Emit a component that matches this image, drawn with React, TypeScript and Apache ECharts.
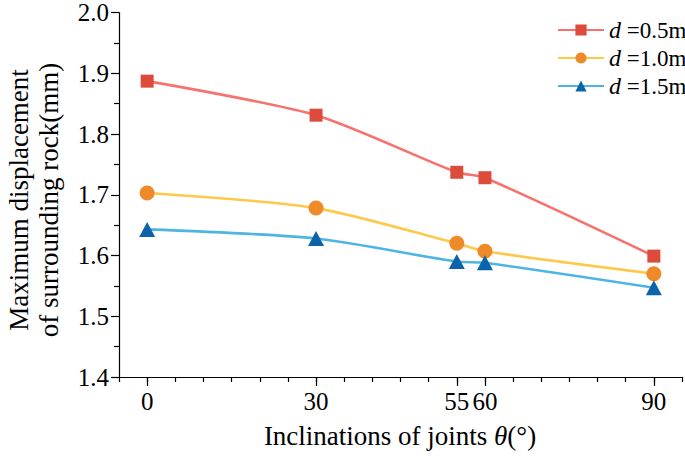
import React, { useEffect, useRef } from "react";
import * as echarts from "echarts";

const angles = [0, 30, 55, 60, 90];
const d05 = [1.887, 1.831, 1.737, 1.728, 1.599];
const d10 = [1.703, 1.678, 1.620, 1.607, 1.570];
const d15 = [1.643, 1.628, 1.590, 1.588, 1.547];
const seriesNames = ["d =0.5m", "d =1.0m", "d =1.5m"];
const xTickLabels = [0, 30, 55, 60, 90];
const yTitle = "Maximum displacement\nof surrounding rock(mm)";

const FONT = "'Liberation Serif', 'Times New Roman', serif";

export default function App() {
  const ref = useRef<HTMLDivElement>(null);
  useEffect(() => {
    if (!ref.current) return;
    const chart = echarts.init(ref.current, null, { renderer: "svg" });
    const mk = (vals: number[]) => angles.map((a, i) => [a, vals[i]]);
    const gridPos = { left: 119, top: 10, width: 563, height: 367 };
    const lineCommon = { type: "line", smooth: 0.25 };
    chart.setOption({
      animation: false,
      backgroundColor: "#ffffff",
      grid: [gridPos],
      legend: {
        orient: "vertical",
        left: 552,
        top: 13,
        itemWidth: 46,
        itemHeight: 14,
        itemGap: 4,
        data: seriesNames,
        formatter: (name: string) => `{i|d}{n|${name.slice(1)}}`,
        textStyle: {
          fontFamily: FONT,
          fontSize: 23,
          color: "#000",
          lineHeight: 24,
          rich: {
            i: { fontFamily: FONT, fontStyle: "italic", fontSize: 24, color: "#000", lineHeight: 24 },
            n: { fontFamily: FONT, fontSize: 23, color: "#000", lineHeight: 24 },
          },
        },
      },
      xAxis: [
        {
          type: "value",
          min: -5,
          max: 95,
          interval: 5,
          splitLine: { show: false },
          axisLine: { show: true, onZero: false, lineStyle: { color: "#000", width: 1.2 } },
          axisTick: {
            show: true,
            length: 9,
            customValues: xTickLabels,
            lineStyle: { color: "#000", width: 1.2 },
          },
          axisLabel: {
            customValues: xTickLabels,
            fontFamily: FONT,
            fontSize: 25,
            color: "#000",
            margin: 12,
          },
        },
        {
          type: "value",
          min: -5,
          max: 95,
          interval: 5,
          position: "bottom",
          splitLine: { show: false },
          axisLine: { show: false },
          axisTick: { show: true, length: 5, lineStyle: { color: "#000", width: 1.2 } },
          axisLabel: { show: false },
        },
      ],
      yAxis: {
        type: "value",
        min: 1.4,
        max: 2.0,
        interval: 0.1,
        splitLine: { show: false },
        axisLine: { show: true, onZero: false, lineStyle: { color: "#000", width: 1.2 } },
        axisTick: { show: true, length: 8, lineStyle: { color: "#000", width: 1.2 } },
        minorTick: { show: true, splitNumber: 2, length: 5, lineStyle: { color: "#000", width: 1.2 } },
        axisLabel: {
          fontFamily: FONT,
          fontSize: 25,
          color: "#000",
          margin: 10,
          formatter: (v: number) => v.toFixed(1),
        },
      },
      graphic: [
        {
          type: "text",
          x: 34,
          y: 200,
          rotation: Math.PI / 2,
          style: {
            text: yTitle,
            fontFamily: FONT,
            fontSize: 27,
            lineHeight: 30,
            fill: "#000",
            align: "center",
            verticalAlign: "middle",
          },
        },
        {
          type: "text",
          x: 400,
          y: 436,
          style: {
            text: "{a|Inclinations of joints }{b|θ}{a|(°)}",
            rich: {
              a: { fontFamily: FONT, fontSize: 27, fill: "#000" },
              b: { fontFamily: FONT, fontSize: 27, fontStyle: "italic", fill: "#000" },
            },
            align: "center",
            verticalAlign: "middle",
          },
        },
      ],
      series: [
        {
          ...lineCommon,
          name: seriesNames[0],
          data: mk(d05),
          symbol: "rect",
          symbolSize: 13,
          lineStyle: { color: "#F8716D", width: 2.6 },
          itemStyle: { color: "#DC4B3B" },
        },
        {
          ...lineCommon,
          name: seriesNames[1],
          data: mk(d10),
          symbol: "circle",
          symbolSize: 15,
          lineStyle: { color: "#FDC94C", width: 2.6 },
          itemStyle: { color: "#EF8A2A" },
        },
        {
          ...lineCommon,
          name: seriesNames[2],
          data: mk(d15),
          symbol: "triangle",
          symbolSize: [16, 15],
          lineStyle: { color: "#4DB4E4", width: 2.6 },
          itemStyle: { color: "#0B63A9" },
        },
      ],
    });
    return () => chart.dispose();
  }, []);
  return (
    <div
      ref={ref}
      style={{ position: "absolute", left: 0, top: 0, width: 685, height: 456 }}
    />
  );
}
